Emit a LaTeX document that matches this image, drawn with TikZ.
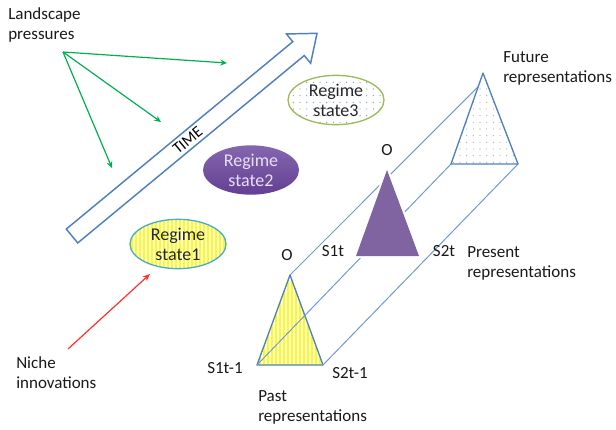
\documentclass[tikz,border=0pt]{standalone}
\usepackage{fontspec}
\setmainfont{Carlito}
\usetikzlibrary{shapes.geometric,patterns.meta,arrows.meta,calc}
\definecolor{tblue}{HTML}{4F81BD}
\definecolor{lblue}{HTML}{6F9BD1}
\definecolor{tgreen}{HTML}{00B050}
\definecolor{tred}{HTML}{FF3030}
\definecolor{tpurp}{HTML}{8064A2}
\definecolor{ptop}{HTML}{8466AE}
\definecolor{pbot}{HTML}{643F93}
\definecolor{oliveb}{HTML}{9BBB59}
\definecolor{cyanb}{HTML}{4BACC6}
\definecolor{ptext}{HTML}{E8DFF5}
\begin{document}
\begin{tikzpicture}[x=0.75pt,y=-0.75pt,
  font=\fontsize{12.75}{15.5}\selectfont,
  lbl/.style={inner sep=0pt, align=left, anchor=north west, text=black!90},
  sm/.style={inner sep=0pt, text=black!90},
  link/.style={draw=lblue, line width=0.75pt},
  tri/.style={draw=tblue, line width=1pt, line join=round},
  garrow/.style={draw=tgreen, line width=0.9pt, -{Stealth[length=5pt,width=4.5pt]}},
  rarrow/.style={draw=tred, line width=0.9pt, -{Stealth[length=5.5pt,width=4.5pt]}},
  regime/.style={ellipse, inner sep=0pt, minimum width=72pt, minimum height=37pt, align=center,
    font=\fontsize{13.5}{15}\selectfont}]
\useasboundingbox (0,0) rectangle (616,429);

% TIME arrow
\begin{scope}[shift={(72,236)}, rotate=39.6]
  \draw[tblue, line width=1.1pt, fill=white, line join=miter]
    (0,-9) -- (294,-9) -- (294,-19) -- (318,0) -- (294,19) -- (294,9) -- (0,9) -- cycle;
  \node[transform shape, inner sep=0pt, font=\fontsize{12}{12}\selectfont] (time) at (150,0) {TIME};
\end{scope}

% Landscape pressures
\node[lbl] (land) at (8,7) {Landscape\\pressures};
\coordinate (lp) at (63,52);
\coordinate (g1) at (227,63);
\coordinate (g2) at (161,122);
\coordinate (g3) at (112,168);
\draw[garrow] (lp) -- (g1);
\draw[garrow] (lp) -- (g2);
\draw[garrow] (lp) -- (g3);

% Regime states
\node[regime, draw=oliveb, line width=1pt, preaction={fill=white},
  pattern={Dots[distance=5pt, radius=0.5pt]}, pattern color=tblue!75, text=black!85]
  (r3) at (336,100) {Regime\\state3};
\node[regime, top color=ptop, bottom color=pbot, text=ptext]
  (r2) at (251,170) {Regime\\state2};
\node[regime, draw=cyanb, line width=1pt, preaction={fill=white},
  pattern={Lines[angle=90, distance=3pt, line width=0.9pt]}, pattern color=yellow, text=black!85]
  (r1) at (178,244) {Regime\\state1};

% Niche innovations
\node[lbl] (niche) at (16,356) {Niche\\innovations};
\coordinate (ns) at (68,349);
\coordinate (ne) at (150,274);
\draw[rarrow] (ns) -- (ne);

% triangles vertices
\coordinate (pO) at (290,275);
\coordinate (pL) at (257,365);
\coordinate (pR) at (323,365);
\coordinate (nO) at (387,170);
\coordinate (nL) at (356,256);
\coordinate (nR) at (419,256);
\coordinate (fO) at (483,73);
\coordinate (fL) at (451,164);
\coordinate (fR) at (518,164);
\coordinate (fE) at ($(fO)!0.15!(fL)$);

% past triangle
\fill[white] (pO) -- (pL) -- (pR) -- cycle;
\path[pattern={Lines[angle=90, distance=3pt, line width=0.9pt]}, pattern color=yellow] (pO) -- (pL) -- (pR) -- cycle;
\draw[tri] (pO) -- (pL) -- (pR) -- cycle;

% connecting lines
\draw[link] (pO) -- (fE);
\draw[link] (pL) -- (fL);
\draw[link] (pR) -- (fR);

% present triangle
\draw[white, line width=3pt, line join=round, fill=tpurp] (nO) -- (nL) -- (nR) -- cycle;
\fill[tpurp] (nO) -- (nL) -- (nR) -- cycle;

% future triangle
\fill[white] (fO) -- (fL) -- (fR) -- cycle;
\path[pattern={Dots[distance=5pt, radius=0.4pt]}, pattern color=black!40] (fO) -- (fL) -- (fR) -- cycle;
\draw[tri] (fO) -- (fL) -- (fR) -- cycle;

% labels
\node[sm] (o1) at (287,255) {O};
\node[sm] (o2) at (387,150) {O};
\node[sm] (s1a) at (225,368) {S1t-1};
\node[sm] (s2a) at (350,373) {S2t-1};
\node[sm] (s1b) at (333,251) {S1t};
\node[sm] (s2b) at (444,251) {S2t};
\node[lbl] (past) at (258,390) {Past\\representations};
\node[lbl] (pres) at (467,246) {Present\\representations};
\node[lbl] (fut) at (503,51) {Future\\representations};
\end{tikzpicture}
\end{document}
